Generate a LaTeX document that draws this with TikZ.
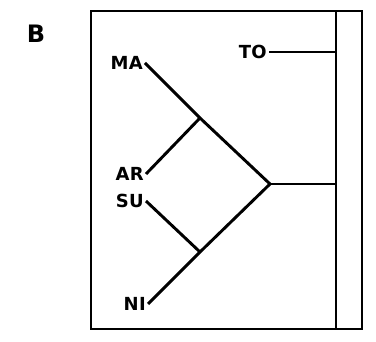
\documentclass[tikz,border=0pt]{standalone}
\usepackage{fontspec}
\setmainfont{DejaVu Sans}
\usepackage{tikz}

\tikzset{
  leaf/.style={anchor=east, inner sep=1.5pt, font=\fontsize{13.5}{13.5}\selectfont\bfseries\addfontfeature{LetterSpace=2}},
  branch/.style={line width=2.2pt},
  frame/.style={line width=1.3pt}
}

\begin{document}
\begin{tikzpicture}[x=0.75pt,y=-0.75pt]
\useasboundingbox (0,0) rectangle (376,342);
\draw[frame] (91,11) rectangle (362,329);
\draw[line width=1.7pt] (336,11) -- (336,329);
\node[font=\fontsize{18}{18}\selectfont\bfseries] (panel) at (36,34) {B};

\node[leaf] (ma) at (145,63) {MA};
\node[leaf] (ar) at (146,174) {AR};
\node[leaf] (su) at (146,201) {SU};
\node[leaf] (ni) at (148,304) {NI};
\node[leaf] (to) at (269,52) {TO};

\coordinate (upper) at (200,118);
\coordinate (lower) at (200,252);
\coordinate (root) at (270,184);
\coordinate (toend) at (336,52);
\coordinate (rootend) at (336,184);

\draw[branch] (ma.east) -- (upper) -- (root);
\draw[branch] (ar.east) -- (upper);
\draw[branch] (su.east) -- (lower);
\draw[branch] (ni.east) -- (lower) -- (root);
\draw[branch] (root) -- (rootend);
\draw[branch] (to.east) -- (toend);
\end{tikzpicture}
\end{document}
